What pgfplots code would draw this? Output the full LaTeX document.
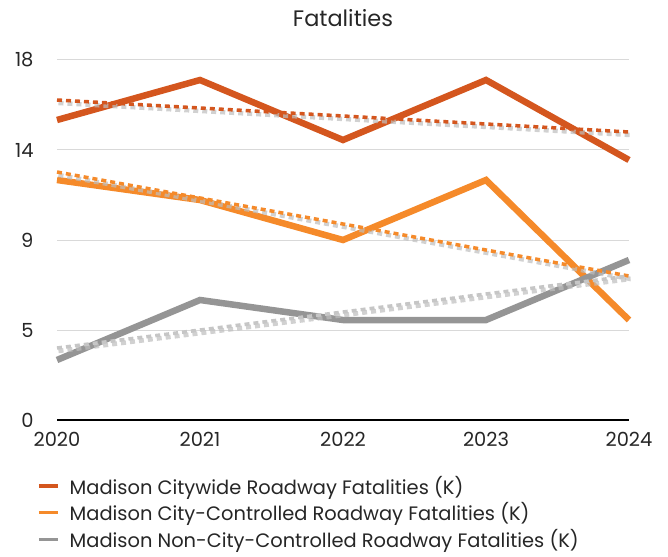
\documentclass[border=0pt]{standalone}
\usepackage{pgfplots}
\pgfplotsset{compat=1.18}
\usepackage{fontspec}
\setmainfont{Poppins}
\definecolor{cw}{HTML}{D4561E}
\definecolor{cc}{HTML}{F58A2A}
\definecolor{nc}{HTML}{959595}
\definecolor{nct}{HTML}{C6C6C6}
\definecolor{gridc}{HTML}{D9D9D9}
\definecolor{shad}{HTML}{BEBEBE}
\begin{document}
\begin{tikzpicture}
\useasboundingbox (-57bp,-137bp) rectangle (611bp,420bp);
\begin{axis}[
  at={(0,0)}, anchor=south west,
  scale only axis, width=572bp, height=360bp,
  xmin=2020, xmax=2024, ymin=0, ymax=18,
  axis x line*=bottom, axis y line*=left,
  x axis line style={black, line width=1.5bp},
  y axis line style={draw=none},
  xtick={2020,2021,2022,2023,2024},
  xticklabels={2020,2021,2022,2023,2024},
  ytick={0,4.5,9,13.5,18},
  yticklabels={0,5,9,14,18},
  major tick length=0,
  ymajorgrids, grid style={gridc, line width=1bp},
  tick label style={font=\fontsize{19.5}{22}\selectfont, text=black!85},
  yticklabel style={xshift=-20bp},
  xticklabel style={yshift=-9bp},
  title={Fatalities},
  title style={font=\fontsize{22.5}{26}\selectfont, text=black!85, yshift=24bp},
  clip=false,
  legend style={draw=none, at={(0,0)}, anchor=north west, xshift=-23bp, yshift=-52bp,
    font=\fontsize{19.5}{22}\selectfont, text=black!85, row sep=3bp,
    /tikz/every odd column/.append style={column sep=8bp}},
  legend cell align=left,
  legend image code/.code={\draw[#1, line width=3.5bp] (0bp,0bp) -- (19bp,0bp);},
]
\addplot[cw, line width=6.5bp] coordinates {(2020,15) (2021,17) (2022,14) (2023,17) (2024,13)};
\addlegendentry{Madison Citywide Roadway Fatalities (K)}
\addplot[cc, line width=6.5bp] coordinates {(2020,12) (2021,11) (2022,9) (2023,12) (2024,5)};
\addlegendentry{Madison City-Controlled Roadway Fatalities (K)}
\addplot[nc, line width=6.5bp] coordinates {(2020,3) (2021,6) (2022,5) (2023,5) (2024,8)};
\addlegendentry{Madison Non-City-Controlled Roadway Fatalities (K)}
% trend lines
\addplot[forget plot, shad, opacity=0.7, line width=4.5bp, dash pattern=on 5bp off 4bp, xshift=1.5bp, yshift=-3bp] coordinates {(2020,16.0) (2024,14.4)};
\addplot[forget plot, cw, line width=3.5bp, dash pattern=on 5bp off 4bp] coordinates {(2020,16.0) (2024,14.4)};
\addplot[forget plot, shad, opacity=0.7, line width=4.5bp, dash pattern=on 5bp off 4bp, xshift=1.5bp, yshift=-3bp] coordinates {(2020,12.4) (2024,7.2)};
\addplot[forget plot, cc, line width=3.5bp, dash pattern=on 5bp off 4bp] coordinates {(2020,12.4) (2024,7.2)};
\addplot[forget plot, shad, opacity=0.7, line width=4.5bp, dash pattern=on 5bp off 4bp, xshift=1.5bp, yshift=-3bp] coordinates {(2020,3.6) (2024,7.2)};
\addplot[forget plot, nct, line width=3.5bp, dash pattern=on 5bp off 4bp] coordinates {(2020,3.6) (2024,7.2)};
\end{axis}
\end{tikzpicture}
\end{document}
